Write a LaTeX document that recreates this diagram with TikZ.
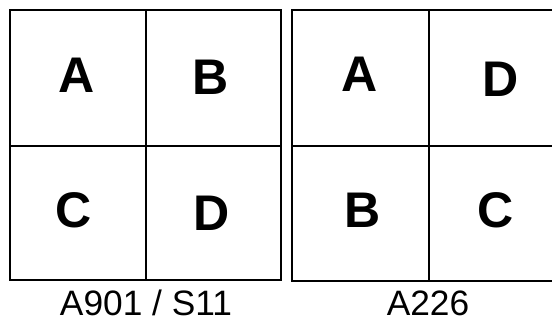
\documentclass[tikz,border=0pt]{standalone}
\usepackage{fontspec}
\setmainfont{Liberation Sans}
\usepackage{tikz}

\begin{document}
\begin{tikzpicture}[x=0.025cm, y=-0.025cm,
    grid/.style={line width=1.7pt},
    cell/.style={inner sep=0pt, font=\fontsize{35.6}{40}\selectfont\bfseries},
    caption/.style={inner sep=0pt, anchor=base, font=\fontsize{25.1}{30}\selectfont}]
  \useasboundingbox (0,0) rectangle (552,322);
  \clip (0,0) rectangle (552,322);

  % --- A901 / S11 layout ---
  \draw[grid] (10,10) rectangle (281,280);
  \draw[grid] (146,10) -- (146,280);
  \draw[grid] (10,146) -- (281,146);
  \node[cell] (la) at (77,75) {A};
  \node[cell] (lb) at (211,77) {B};
  \node[cell] (lc) at (74,210) {C};
  \node[cell] (ld) at (212,213) {D};
  \node[caption] (lcap) at (146,315) {A901 / S11};

  % --- A226 layout ---
  \draw[grid] (292,10) rectangle (566,281);
  \draw[grid] (429,10) -- (429,281);
  \draw[grid] (292,146) -- (566,146);
  \node[cell] (ra) at (360,74) {A};
  \node[cell] (rd) at (501,79) {D};
  \node[cell] (rb) at (363,210) {B};
  \node[cell] (rc) at (496,210) {C};
  \node[caption] (rcap) at (428,315) {A226};
\end{tikzpicture}
\end{document}
